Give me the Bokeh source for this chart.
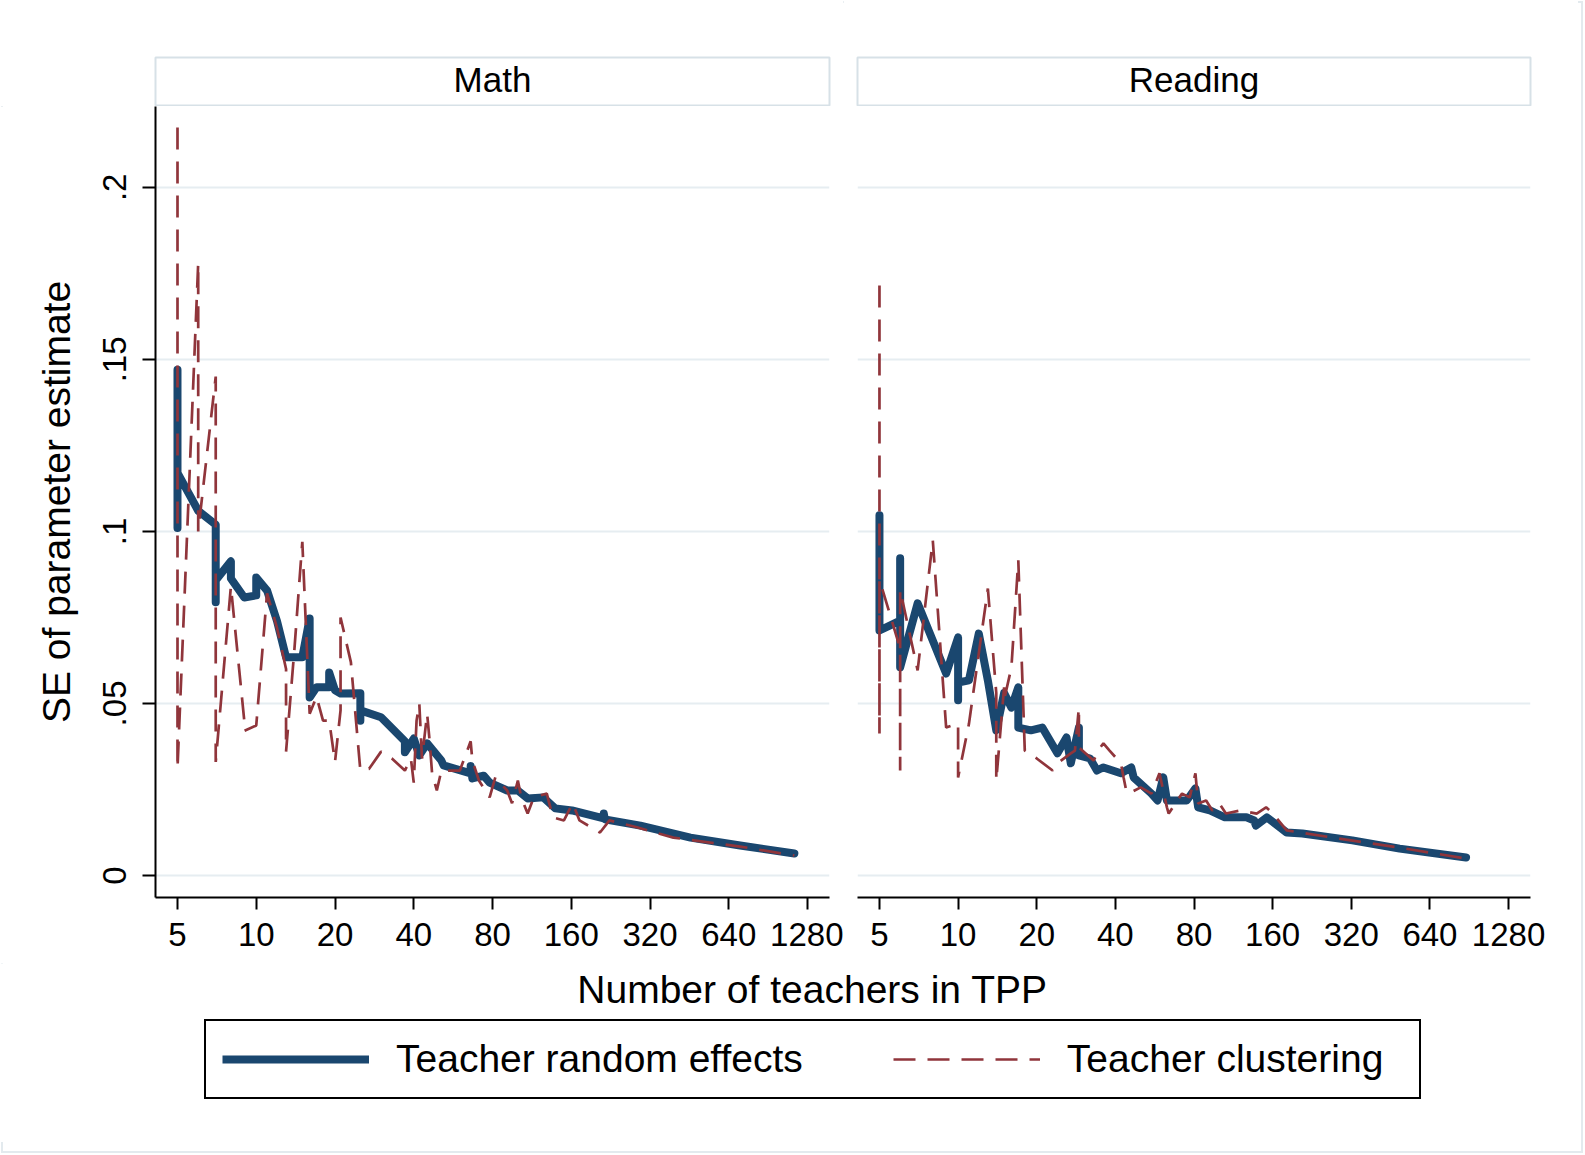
from bokeh.plotting import figure
from bokeh.models import Range1d, FixedTicker, Legend, LegendItem, Label
from bokeh.layouts import column, row
from bokeh.embed import file_html
from bokeh.resources import INLINE

# ---------------- data ----------------
panel_titles = ["Math", "Reading"]
series_names = ["Teacher random effects", "Teacher clustering"]
x_title = "Number of teachers in TPP"
y_title = "SE of parameter estimate"

x_tick_values = [5, 10, 20, 40, 80, 160, 320, 640, 1280]
x_tick_labels = ["5", "10", "20", "40", "80", "160", "320", "640", "1280"]
y_tick_values = [0, 0.05, 0.1, 0.15, 0.2]
y_tick_labels = ["0", ".05", ".1", ".15", ".2"]

math_re_n = [5, 5, 5, 6, 7, 7, 7, 7, 8, 8, 9, 10, 10, 11, 12, 13, 15, 16, 16, 17, 19, 19, 20, 21,
             25, 25, 25, 30, 37, 37, 40, 42, 45, 51, 52, 66, 66, 67, 74, 78, 91, 100, 109, 125,
             139, 161, 213, 213, 215, 294, 457, 707, 1140]
math_re_se = [0.147, 0.101, 0.117, 0.106, 0.102, 0.100, 0.0794, 0.0858, 0.0913, 0.0863, 0.0808,
              0.0814, 0.0866, 0.0828, 0.074, 0.0634, 0.0634, 0.0747, 0.0517, 0.0547, 0.0547, 0.059,
              0.0538, 0.0529, 0.053, 0.045, 0.048, 0.046, 0.039, 0.0358, 0.0398, 0.0349, 0.0384,
              0.0334, 0.032, 0.0297, 0.0318, 0.0282, 0.029, 0.027, 0.0247, 0.0247, 0.0224, 0.0227,
              0.0195, 0.0189, 0.0166, 0.018, 0.0163, 0.0145, 0.011, 0.0087, 0.0064]

math_cl_n = [5, 5, 6, 6, 7, 7, 8, 9, 9, 10, 11, 12, 13, 13, 14, 15, 16, 17, 18, 19, 20, 21, 21, 23,
             25, 27, 30, 33, 37, 39, 40, 41, 42, 43, 45, 46, 47, 49, 51, 54, 60, 66, 67, 71, 78, 82,
             91, 95, 100, 103, 109, 115, 129, 136, 150, 162, 172, 206, 224, 285, 393, 707, 1140]
math_cl_se = [0.2174, 0.0311, 0.178, 0.100, 0.145, 0.033, 0.084, 0.045, 0.042, 0.0436, 0.082, 0.072,
              0.060, 0.036, 0.066, 0.097, 0.047, 0.052, 0.045, 0.045, 0.033, 0.048, 0.075, 0.062,
              0.0305, 0.031, 0.036, 0.034, 0.0305, 0.034, 0.027, 0.045, 0.050, 0.034, 0.047, 0.039,
              0.0297, 0.0247, 0.0305, 0.0305, 0.0305, 0.039, 0.0334, 0.0276, 0.0227, 0.0285, 0.0247,
              0.021, 0.0276, 0.0227, 0.018, 0.0227, 0.0238, 0.0169, 0.016, 0.021, 0.016, 0.0125,
              0.016, 0.014, 0.011, 0.0084, 0.0058]

read_re_n = [5, 5, 6, 6, 6, 7, 9, 10, 10, 10, 11, 12, 13, 14, 15, 16, 17, 17, 19, 21, 24, 26, 27, 29,
             29, 32, 34, 35, 36, 42, 46, 47, 55, 58, 61, 63, 75, 81, 83, 92, 105, 127, 136, 138, 152,
             181, 208, 323, 490, 880]
read_re_se = [0.1047, 0.0712, 0.0741, 0.0922, 0.0605, 0.0791, 0.0587, 0.0692, 0.0509, 0.0561, 0.0567,
              0.0703, 0.0567, 0.0422, 0.053, 0.0488, 0.0547, 0.043, 0.0422, 0.043, 0.0355, 0.0401,
              0.0326, 0.043, 0.0349, 0.034, 0.0305, 0.031, 0.0314, 0.0297, 0.0314, 0.0285, 0.0238,
              0.0218, 0.0285, 0.0218, 0.0218, 0.0253, 0.0198, 0.0189, 0.0169, 0.0169, 0.016, 0.0145,
              0.0169, 0.0125, 0.0122, 0.0102, 0.0078, 0.0052]

read_cl_n = [5, 5, 5, 6, 6, 6, 7, 8, 9, 10, 10, 11, 13, 14, 14, 15, 15, 16, 17, 18, 20, 23, 24, 27,
             28, 29, 29, 33, 35, 36, 38, 42, 43, 44, 45, 50, 55, 59, 63, 64, 69, 72, 77, 81, 83, 89,
             94, 100, 106, 120, 139, 151, 159, 181, 272, 490, 880]
read_cl_se = [0.1715, 0.0413, 0.086, 0.066, 0.0305, 0.083, 0.0596, 0.0974, 0.043, 0.0442, 0.0285,
              0.044, 0.0834, 0.053, 0.0276, 0.0547, 0.051, 0.0605, 0.0916, 0.0363, 0.034, 0.0305,
              0.0326, 0.0355, 0.0363, 0.0488, 0.0372, 0.0334, 0.0372, 0.0384, 0.0363, 0.0326,
              0.0285, 0.0247, 0.0238, 0.0256, 0.0238, 0.0297, 0.0198, 0.018, 0.0218, 0.0238,
              0.0227, 0.0297, 0.0209, 0.0218, 0.0189, 0.0209, 0.018, 0.0189, 0.018, 0.0198,
              0.0183, 0.0131, 0.011, 0.0081, 0.0049]

# ---------------- style ----------------
FONT = "Liberation Sans"
BLUE = "#1a476f"
RED = "#90353b"
GRID = "#e6edf1"
STRIP = "#d7e1e7"
FRAME_LINE = "#e3eaee"
DASH = "22 12"
BLUE_W = 8
RED_W = 2.7

FRAME_W = [674, 673]
FRAME_H = 791
BORDER_L = [155, 14]
BORDER_R = [14, 48]
STRIP_TOP = 57
STRIP_H = 49
BOTTOM_B = 66
BOTTOM_H = 179
X_RANGE = (4.12, 1553)
Y_RANGE = (-0.0064, 0.2235)


def make_strip(i):
    s = figure(width=BORDER_L[i] + FRAME_W[i] + BORDER_R[i], height=STRIP_TOP + STRIP_H,
               x_range=Range1d(0, 1), y_range=Range1d(0, 1),
               x_axis_location=None, y_axis_location=None,
               min_border_left=BORDER_L[i], min_border_right=BORDER_R[i],
               min_border_top=STRIP_TOP, min_border_bottom=0,
               output_backend="svg", toolbar_location=None)
    s.xgrid.visible = False
    s.ygrid.visible = False
    s.outline_line_color = STRIP
    s.outline_line_width = 2
    s.add_layout(Label(x=0.5, y=0.56, text=panel_titles[i], text_align="center",
                       text_baseline="middle", text_font=FONT, text_font_size="35px",
                       text_color="black"))
    return s


def make_panel(i, n_re, se_re, n_cl, se_cl):
    show_y = (i == 0)
    p = figure(width=BORDER_L[i] + FRAME_W[i] + BORDER_R[i], height=FRAME_H + BOTTOM_B,
               x_axis_type="log", x_range=Range1d(*X_RANGE), y_range=Range1d(*Y_RANGE),
               y_axis_location="left" if show_y else None,
               min_border_left=BORDER_L[i], min_border_right=BORDER_R[i],
               min_border_top=0, min_border_bottom=BOTTOM_B,
               output_backend="svg", toolbar_location=None)
    p.outline_line_color = None
    p.xgrid.visible = False
    p.ygrid.ticker = FixedTicker(ticks=y_tick_values)
    p.ygrid.grid_line_color = GRID
    p.ygrid.grid_line_width = 2

    ax = p.xaxis[0]
    ax.ticker = FixedTicker(ticks=x_tick_values, minor_ticks=[])
    ax.major_label_overrides = dict(zip(x_tick_values, x_tick_labels))
    ax.axis_line_color = "black"
    ax.axis_line_width = 2
    ax.major_tick_line_color = "black"
    ax.major_tick_line_width = 2
    ax.major_tick_out = 12
    ax.major_tick_in = 0
    ax.minor_tick_out = 0
    ax.minor_tick_in = 0
    ax.major_label_text_font = FONT
    ax.major_label_text_font_size = "33px"
    ax.major_label_text_color = "black"
    ax.major_label_standoff = 13

    if show_y:
        ay = p.yaxis[0]
        ay.ticker = FixedTicker(ticks=y_tick_values, minor_ticks=[])
        ay.major_label_overrides = dict(zip(y_tick_values, y_tick_labels))
        ay.major_label_orientation = "vertical"
        ay.axis_line_color = "black"
        ay.axis_line_width = 2
        ay.major_tick_line_color = "black"
        ay.major_tick_line_width = 2
        ay.major_tick_out = 13
        ay.major_tick_in = 0
        ay.minor_tick_out = 0
        ay.minor_tick_in = 0
        ay.major_label_text_font = FONT
        ay.major_label_text_font_size = "33px"
        ay.major_label_text_color = "black"
        ay.major_label_standoff = 16
        ay.axis_label = y_title
        ay.axis_label_text_font = FONT
        ay.axis_label_text_font_size = "39px"
        ay.axis_label_text_font_style = "normal"
        ay.axis_label_text_color = "black"
        ay.axis_label_standoff = 23

    p.line(n_re, se_re, line_color=BLUE, line_width=BLUE_W, line_join="round", line_cap="round")
    p.line(n_cl, se_cl, line_color=RED, line_width=RED_W, line_dash=DASH)
    return p


strip_m = make_strip(0)
strip_r = make_strip(1)
panel_m = make_panel(0, math_re_n, math_re_se, math_cl_n, math_cl_se)
panel_r = make_panel(1, read_re_n, read_re_se, read_cl_n, read_cl_se)

total_w = sum(BORDER_L) + sum(FRAME_W) + sum(BORDER_R)
bottom = figure(width=total_w, height=BOTTOM_H, x_range=Range1d(0, 1), y_range=Range1d(0, 1),
                x_axis_location=None, y_axis_location=None, min_border=0,
                output_backend="svg", toolbar_location=None)
bottom.xgrid.visible = False
bottom.ygrid.visible = False
bottom.outline_line_color = None

bottom.add_layout(Label(x=812, y=153, x_units="screen", y_units="screen",
                        text=x_title, text_align="center", text_baseline="middle",
                        text_font=FONT, text_font_size="39px", text_color="black"))

# legend-only renderers (no visible data)
nan = float("nan")
r_re = bottom.line(x=[nan], y=[nan], line_color=BLUE, line_width=BLUE_W)
r_cl = bottom.line(x=[nan], y=[nan], line_color=RED, line_width=RED_W, line_dash=DASH)
legend = Legend(items=[LegendItem(label=series_names[0], renderers=[r_re]),
                       LegendItem(label=series_names[1], renderers=[r_cl])],
                location=(204, 43), orientation="horizontal",
                border_line_color="black", border_line_width=2, border_line_alpha=1,
                background_fill_color="white", background_fill_alpha=1,
                padding=16, spacing=90, label_standoff=27,
                glyph_width=147, glyph_height=30, label_width=336, margin=0,
                label_text_font=FONT, label_text_font_size="39px", label_text_color="black")
bottom.add_layout(legend)

layout = column(row(strip_m, strip_r), row(panel_m, panel_r), bottom,
                width=1584, height=1154,
                styles={"outline": "2px solid " + FRAME_LINE, "outline-offset": "-3px"})

open("out.html", "w").write(file_html(layout, INLINE))
